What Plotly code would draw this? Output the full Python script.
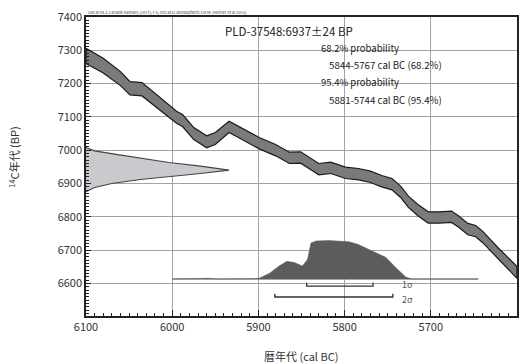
import plotly.graph_objects as go

# ---------------- data ----------------
# IntCal13 calibration curve: calendar year BC, 14C BP centre, half-width
curve_years = [6100, 6080, 6060, 6049, 6035, 6026, 6010, 5995, 5988, 5975, 5960, 5950,
               5934, 5920, 5899, 5880, 5864, 5851, 5840, 5830, 5816, 5799, 5784, 5770,
               5757, 5745, 5735, 5726, 5715, 5703, 5690, 5676, 5668, 5657, 5648, 5640,
               5622, 5610, 5600]
curve_bp = [7283, 7254, 7215, 7186, 7183, 7164, 7130, 7099, 7089, 7050, 7025, 7035,
            7070, 7050, 7021, 7000, 6977, 6978, 6960, 6943, 6947, 6932, 6928, 6920,
            6907, 6898, 6875, 6845, 6820, 6798, 6798, 6800, 6786, 6763, 6757, 6740,
            6690, 6660, 6633]
curve_hw = [23, 22, 21, 20, 20, 19, 19, 18, 18, 18, 18, 18,
            17, 17, 17, 17, 17, 17, 17, 17, 17, 17, 17, 17,
            17, 17, 17, 17, 17, 17, 17, 17, 17, 17, 17, 17,
            17, 18, 18]

# measured radiocarbon age distribution (BP, relative density)
meas_bp = [7008, 6998, 6988, 6976, 6963, 6952, 6940, 6930, 6922, 6912, 6900, 6888, 6875]
meas_dens = [0.0, 0.06, 0.2, 0.38, 0.58, 0.8, 1.0, 0.8, 0.6, 0.38, 0.18, 0.06, 0.0]

# calibrated distribution (cal BC, relative probability)
cal_years = [6000, 5975, 5965, 5960, 5955, 5945, 5905, 5899, 5887, 5876, 5867, 5858,
             5849, 5843, 5839, 5833, 5818, 5807, 5795, 5784, 5772, 5760, 5752, 5741,
             5729, 5722, 5645]
cal_prob = [0.0, 0.0, 0.015, 0.02, 0.015, 0.0, 0.01, 0.02, 0.15, 0.33, 0.45, 0.42,
            0.33, 0.5, 0.92, 0.97, 0.98, 0.97, 0.95, 0.88, 0.76, 0.64, 0.55, 0.3,
            0.05, 0.0, 0.0]

sigma_labels = ["1\u03c3", "2\u03c3"]
sigma_from = [5844, 5881]
sigma_to = [5767, 5744]

# ---------------- figure ----------------
FONT = "Noto Sans CJK JP, Noto Sans, sans-serif"
fig = go.Figure()

# calibration band
upper = [c + h for c, h in zip(curve_bp, curve_hw)]
lower = [c - h for c, h in zip(curve_bp, curve_hw)]
fig.add_trace(go.Scatter(
    x=curve_years + curve_years[::-1] + [curve_years[0]],
    y=upper + lower[::-1] + [upper[0]],
    fill="toself", fillcolor="#7a7a7a",
    line=dict(color="#1a1a1a", width=1.2), mode="lines", hoverinfo="skip"))

# measurement distribution on the y axis
MEAS_SCALE = 166  # years of horizontal extent for the peak
fig.add_trace(go.Scatter(
    x=[6100 - d * MEAS_SCALE for d in meas_dens],
    y=meas_bp,
    fill="toself", fillcolor="#c9cacd",
    line=dict(color="#444444", width=1.2), mode="lines", hoverinfo="skip"))

# calibrated distribution
BASE = 6613
CAL_SCALE = 118
fig.add_trace(go.Scatter(
    x=[cal_years[0], cal_years[-1]], y=[BASE, BASE],
    mode="lines", line=dict(color="#8a8a8a", width=1), hoverinfo="skip"))
fig.add_trace(go.Scatter(
    x=cal_years + [cal_years[-1], cal_years[0]],
    y=[BASE + p * CAL_SCALE for p in cal_prob] + [BASE, BASE],
    fill="toself", fillcolor="#5c5c5c",
    line=dict(color="#5c5c5c", width=0.5), mode="lines", hoverinfo="skip"))

# sigma brackets
bracket_y = [6592, 6559]
label_shift = [2, -2]
for lab, a, b, yy, ys in zip(sigma_labels, sigma_from, sigma_to, bracket_y, label_shift):
    fig.add_trace(go.Scatter(
        x=[a, a, b, b], y=[yy + 10, yy, yy, yy + 10],
        mode="lines", line=dict(color="#333333", width=1.3), hoverinfo="skip"))
    fig.add_annotation(x=5735, y=yy, yshift=ys, text=lab,
                       showarrow=False, xanchor="left", yanchor="middle",
                       borderpad=0,
                       font=dict(family=FONT, size=9, color="#555555"))

# plot area geometry in px: x 86..519, y 14..316
def px(xp):
    return (xp - 86) / 433.0
def py(yp):
    return (316 - yp) / 302.0

texts = [
    ("PLD-37548:6937\u00b124 BP", 224, 28, 11.5),
    ("68.2% probability", 320, 45, 9.5),
    ("5844-5767 cal BC (68.2%)", 328, 62, 9.7),
    ("95.4% probability", 320, 80, 9.5),
    ("5881-5744 cal BC (95.4%)", 328, 98, 9.7),
]
for t, x0, y0, s in texts:
    fig.add_annotation(x=px(x0), y=py(y0), xref="paper", yref="paper", text=t,
                       showarrow=False, xanchor="left", yanchor="middle",
                       font=dict(family=FONT, size=s, color="#222222"))

fig.add_annotation(x=px(86), y=py(9), xref="paper", yref="paper",
                   text="OxCal v4.3.2 Bronk Ramsey (2017); r:5; IntCal13 atmospheric curve (Reimer et al 2013)",
                   showarrow=False, xanchor="left", yanchor="middle",
                   font=dict(family=FONT, size=4, color="#444444"))

fig.add_annotation(x=px(14), y=py(155), xref="paper", yref="paper",
                   text="<sup>14</sup>C年代 (BP)", textangle=-90,
                   showarrow=False, xanchor="center", yanchor="middle",
                   font=dict(family=FONT, size=11, color="#333333"))
fig.add_annotation(x=px(302), y=py(356), xref="paper", yref="paper",
                   text="暦年代 (cal BC)",
                   showarrow=False, xanchor="center", yanchor="middle",
                   font=dict(family=FONT, size=11, color="#333333"))

fig.update_layout(
    width=527, height=364,
    margin=dict(l=86, r=8, t=14, b=48),
    paper_bgcolor="white", plot_bgcolor="white",
    showlegend=False,
    font=dict(family=FONT, size=11, color="#333333"),
)
fig.update_xaxes(
    range=[6100, 5600], tickmode="linear", tick0=5600, dtick=100,
    showgrid=True, gridcolor="#a3a3a3", gridwidth=1.2,
    showline=True, linecolor="#222222", linewidth=1.5, mirror=True,
    ticks="inside", ticklen=6, tickcolor="#222222", tickwidth=1,
    minor=dict(dtick=10, ticks="inside", ticklen=3, tickcolor="#222222", showgrid=False),
    zeroline=False,
    tickfont=dict(family=FONT, size=11, color="#333333"),
)
fig.update_yaxes(
    range=[6502, 7400], tickmode="linear", tick0=6600, dtick=100,
    showgrid=True, gridcolor="#a3a3a3", gridwidth=1.2,
    showline=True, linecolor="#222222", linewidth=1.5, mirror=True,
    ticks="inside", ticklen=5, tickcolor="#222222", tickwidth=1,
    minor=dict(dtick=10, ticks="inside", ticklen=3, tickcolor="#222222", showgrid=False),
    zeroline=False,
    tickfont=dict(family=FONT, size=11, color="#333333"),
)

fig.write_html("out.html", config={"displayModeBar": False},
               post_script="document.body.style.margin='0';document.body.style.overflow='hidden';")
